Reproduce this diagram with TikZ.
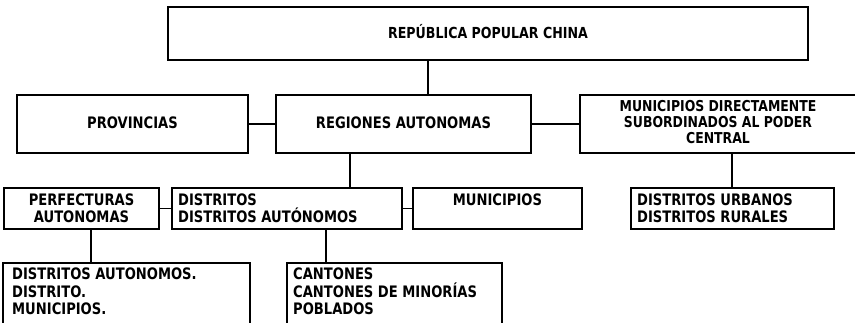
\documentclass[tikz,border=0pt]{standalone}
\usepackage{fontspec}
\newfontfamily\dvs{DejaVu Sans Bold}[FakeStretch=0.83]
\tikzset{
  x=1pt, y=-1pt,
  box/.style={draw=black, line width=1.4pt, rectangle, inner sep=0pt},
  lnk/.style={draw=black, line width=1.4pt},
  txt/.style={inner sep=0pt, text=black, font=\dvs\fontsize{15.8}{17}\selectfont},
}
\begin{document}
\begin{tikzpicture}
\useasboundingbox (0,0) rectangle (855,323);
\clip (0,0) rectangle (855,323);
\fill[white] (0,0) rectangle (855,323);
% boxes
\node[box, minimum width=640pt, minimum height=53pt] (top) at (488,33.5) {};
\node[box, minimum width=231pt, minimum height=58pt] (prov) at (132.5,124) {};
\node[box, minimum width=255pt, minimum height=58pt] (reg) at (403.5,124) {};
\node[box, minimum width=320pt, minimum height=58pt] (mdc) at (740,124) {};
\node[box, minimum width=155pt, minimum height=41pt] (perf) at (81.5,208.5) {};
\node[box, minimum width=230pt, minimum height=41pt] (dist) at (287,208.5) {};
\node[box, minimum width=169pt, minimum height=41pt] (mun) at (497.5,208.5) {};
\node[box, minimum width=203pt, minimum height=41pt] (durb) at (732.5,208.5) {};
\node[box, minimum width=247pt, minimum height=78pt] (da) at (126.5,302) {};
\node[box, minimum width=215pt, minimum height=78pt] (cant) at (394.5,302) {};
% texts
\node[txt, font=\dvs\fontsize{15.2}{16}\selectfont, anchor=base] (toptxt) at (488,38.5) {REPÚBLICA POPULAR CHINA};
\node[txt, anchor=base] (provtxt) at (132.5,128.5) {PROVINCIAS};
\node[txt, anchor=base] (regtxt) at (403.5,128.5) {REGIONES AUTONOMAS};
\node[txt, font=\dvs\fontsize{15}{16}\selectfont, align=center, anchor=north] (mdctxt) at (718,100) {MUNICIPIOS DIRECTAMENTE\\SUBORDINADOS AL PODER\\CENTRAL};
\node[txt, align=center, anchor=north] (perftxt) at (81.5,193.5) {PERFECTURAS\\AUTONOMAS};
\node[txt, align=left, anchor=north west] (disttxt) at (178,193.5) {DISTRITOS\\DISTRITOS AUTÓNOMOS};
\node[txt, anchor=north] (muntxt) at (497.5,193.5) {MUNICIPIOS};
\node[txt, align=left, anchor=north west] (durbtxt) at (637,193.5) {DISTRITOS URBANOS\\DISTRITOS RURALES};
\node[txt, font=\dvs\fontsize{15.8}{17.5}\selectfont, align=left, anchor=north west] (datxt) at (12,268) {DISTRITOS AUTONOMOS.\\DISTRITO.\\MUNICIPIOS.};
\node[txt, font=\dvs\fontsize{15.8}{17.5}\selectfont, align=left, anchor=north west] (canttxt) at (293,268) {CANTONES\\CANTONES DE MINORÍAS\\POBLADOS};
% connector x positions
\coordinate (c1) at (428,0);
\coordinate (c2) at (350,0);
\coordinate (c3) at (732,0);
\coordinate (c4) at (91,0);
\coordinate (c5) at (326,0);
% connectors
\draw[lnk] (top.south -| c1) -- (reg.north -| c1);
\draw[lnk] (prov.east) -- (reg.west);
\draw[lnk] (reg.east) -- (mdc.west);
\draw[lnk] (reg.south -| c2) -- (dist.north -| c2);
\draw[lnk] (perf.east) -- (dist.west);
\draw[lnk] (dist.east) -- (mun.west);
\draw[lnk] (mdc.south -| c3) -- (durb.north -| c3);
\draw[lnk] (perf.south -| c4) -- (da.north -| c4);
\draw[lnk] (dist.south -| c5) -- (cant.north -| c5);
\end{tikzpicture}
\end{document}
